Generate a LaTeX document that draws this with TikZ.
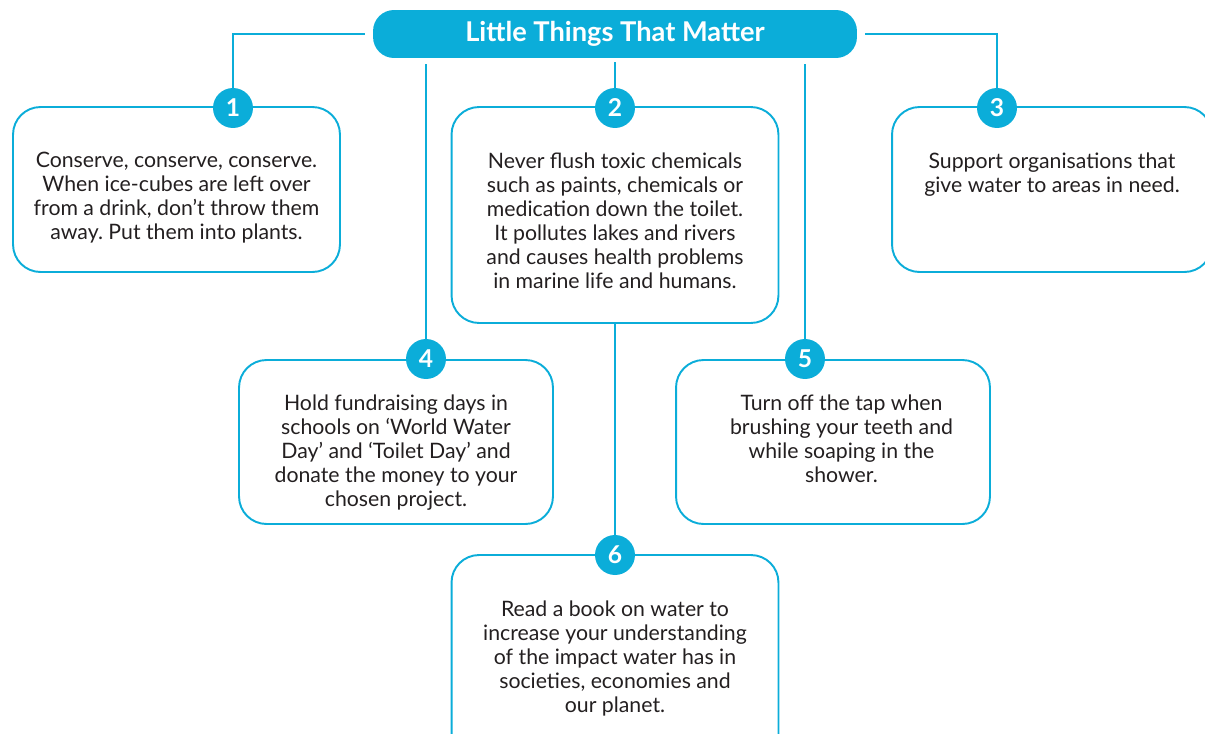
\documentclass[tikz,border=0pt]{standalone}
\usepackage{fontspec}
\setmainfont{Lato}
\frenchspacing
\usetikzlibrary{positioning}
\definecolor{aqua}{RGB}{11,173,217}
\definecolor{ink}{RGB}{35,31,32}
\tikzset{
	tipbox/.style={draw=aqua, line width=1.1pt, rounded corners=0.55cm, minimum width=6.54cm, minimum height=3.3cm, inner sep=0pt},
	num/.style={circle, fill=aqua, minimum size=0.8cm, inner sep=0pt, text=white, font=\bfseries\fontsize{14}{14}\selectfont},
	tiptext/.style={align=center, text=ink, font=\fontsize{12.1}{13.66}\selectfont, inner sep=0pt},
	link/.style={draw=aqua, line width=1.1pt}
}

\begin{document}
\begin{tikzpicture}[x=0.02cm, y=-0.02cm]
		\useasboundingbox (0,0) rectangle (1205,734);
		% Titolo
		\node [fill=aqua, rounded corners=0.42cm, minimum width=9.68cm, minimum height=0.96cm, text=white, font=\bfseries\fontsize{15.5}{15.5}\selectfont] (title) at (615,34) {Little Things That Matter};
		
		% Riquadri
		\node [tipbox] (b1) at (176.5,189.5) {};
		\node [tipbox, minimum height=4.32cm] (b2) at (615,215) {};
		\node [tipbox, minimum width=6.4cm] (b3) at (1052,189.5) {};
		\node [tipbox, minimum width=6.28cm, minimum height=3.28cm] (b4) at (396,442) {};
		\node [tipbox, minimum width=6.28cm, minimum height=3.28cm] (b5) at (833,442) {};
		\node [tipbox, minimum height=4.32cm] (b6) at (615,663) {};
		
		% Testi
		\node [tiptext, below=0.92cm of b1.north] (t1) {Conserve, conserve, conserve.\\When ice-cubes are left over\\from a drink, don’t throw them\\away. Put them into plants.};
		\node [tiptext, below=0.92cm of b2.north] (t2) {Never flush toxic chemicals\\such as paints, chemicals or\\medication down the toilet.\\It pollutes lakes and rivers\\and causes health problems\\in marine life and humans.};
		\node [tiptext, below=0.92cm of b3.north] (t3) {Support organisations that\\give water to areas in need.};
		\node [tiptext, below=0.7cm of b4.north] (t4) {Hold fundraising days in\\schools on ‘World Water\\Day’ and ‘Toilet Day’ and\\donate the money to your\\chosen project.};
		\node [tiptext, below=0.7cm of b5.north, xshift=0.17cm] (t5) {Turn off the tap when\\brushing your teeth and\\while soaping in the\\shower.};
		\node [tiptext, below=0.92cm of b6.north] (t6) {Read a book on water to\\increase your understanding\\of the impact water has in\\societies, economies and\\our planet.};
		
		% Numeri
		\node [num] (c1) at (233,108) {1};
		\node [num] (c2) at (615,108) {2};
		\node [num] (c3) at (997,108) {3};
		\node [num] (c4) at (426,359) {4};
		\node [num] (c5) at (805,359) {5};
		\node [num] (c6) at (615,555) {6};
		
		% Collegamenti
		\draw [link, shorten <=0.16cm] (title.west) -| (c1);
		\draw [link, shorten <=0.16cm] (title.east) -| (c3);
		\draw [link, shorten <=0.08cm] (title.south) -- (c2);
		\draw [link, shorten <=0.12cm] (title.south -| c4) -- (c4);
		\draw [link, shorten <=0.12cm] (title.south -| c5) -- (c5);
		\draw [link] (b2.south) -- (c6);
\end{tikzpicture}
\end{document}
